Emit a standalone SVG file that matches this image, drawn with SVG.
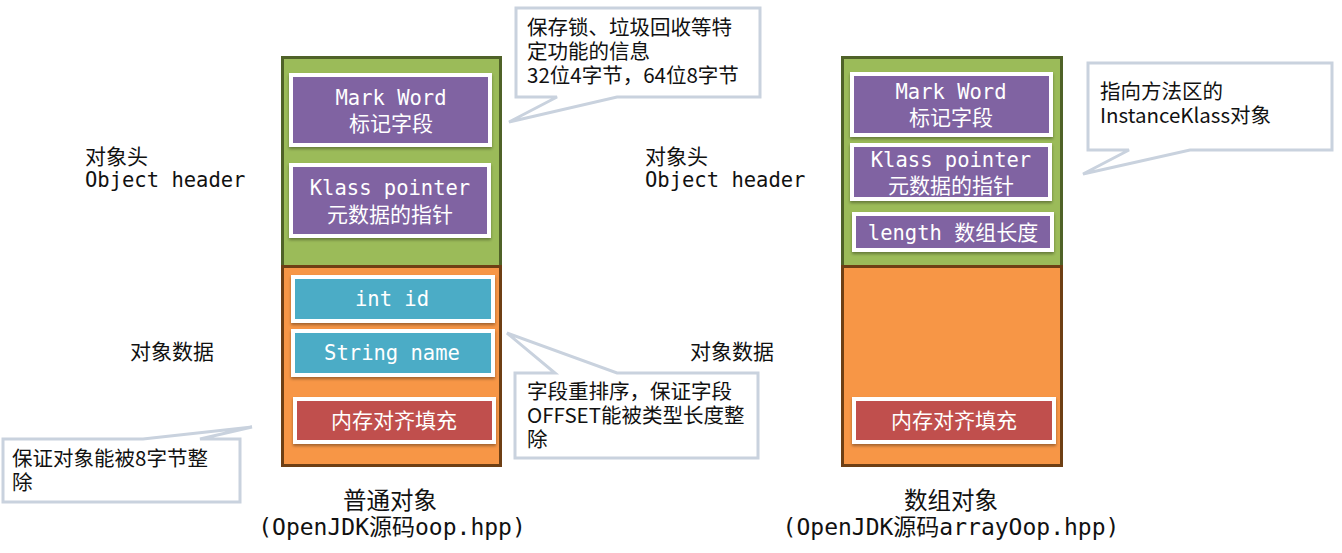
<svg xmlns="http://www.w3.org/2000/svg" width="1342" height="553" viewBox="0 0 1342 553">
<defs>
<filter id="sh" x="-10%" y="-10%" width="120%" height="130%">
<feDropShadow dx="0" dy="2" stdDeviation="1.5" flood-color="#000" flood-opacity="0.35"/>
</filter>
</defs>
<style>
.green{fill:#9bbb59;stroke:#4f6228;stroke-width:3}
.orange{fill:#f79646;stroke:#6e3f14;stroke-width:3}
.box{stroke:#fff;stroke-width:4;filter:url(#sh)}
.pur{fill:#8064a2}
.teal{fill:#4bacc6}
.red{fill:#c0504d}
.mono{font-family:"DejaVu Sans Mono","Liberation Mono",monospace;font-size:20.5px}
.cjk{font-family:"Noto Sans CJK SC","Noto Sans",sans-serif;font-size:21px}
.co{font-family:"Noto Sans CJK SC","Noto Sans",sans-serif;font-size:20.5px}
.wt{fill:#fff;text-anchor:middle}
.bk{fill:#111}
.callout{fill:#fff;stroke:#c9d2de;stroke-width:3}
.cap{font-family:"Noto Sans CJK SC",sans-serif;font-size:23.5px;fill:#111;text-anchor:middle}
.capm{font-family:"DejaVu Sans Mono","Noto Sans CJK SC",monospace;font-size:23px;fill:#111;text-anchor:middle}
</style>
<rect width="1342" height="553" fill="#fff"/>

<g id="obj-normal">
<rect class="green" x="282.5" y="57.5" width="218" height="209"/>
<rect class="orange" x="282.5" y="266.5" width="218" height="199"/>
<g id="n-mark"><rect class="box pur" x="291" y="75" width="199" height="70"/>
<text class="mono wt" x="391" y="105">Mark Word</text>
<text class="cjk wt" x="391" y="131">标记字段</text></g>
<g id="n-klass"><rect class="box pur" x="291" y="165" width="198" height="71"/>
<text class="mono wt" x="390" y="195">Klass pointer</text>
<text class="cjk wt" x="390" y="222">元数据的指针</text></g>
<g id="n-int"><rect class="box teal" x="293" y="277" width="200" height="44"/>
<text class="mono wt" x="392" y="306">int id</text></g>
<g id="n-str"><rect class="box teal" x="293" y="331" width="200" height="44"/>
<text class="mono wt" x="392" y="360">String name</text></g>
<g id="n-pad"><rect class="box red" x="295" y="399" width="199" height="43"/>
<text class="cjk wt" x="394" y="428">内存对齐填充</text></g>
</g>

<g id="obj-array">
<rect class="green" x="842.5" y="57.5" width="219" height="209"/>
<rect class="orange" x="842.5" y="266.5" width="219" height="199"/>
<g id="a-mark"><rect class="box pur" x="852" y="74" width="199" height="61"/>
<text class="mono wt" x="951" y="99">Mark Word</text>
<text class="cjk wt" x="951" y="125">标记字段</text></g>
<g id="a-klass"><rect class="box pur" x="852" y="145" width="198" height="54"/>
<text class="mono wt" x="951" y="167">Klass pointer</text>
<text class="cjk wt" x="951" y="193">元数据的指针</text></g>
<g id="a-len"><rect class="box pur" x="854" y="214" width="198" height="36"/>
<text class="wt" x="953" y="240"><tspan class="mono">length </tspan><tspan class="cjk">数组长度</tspan></text></g>
<g id="a-pad"><rect class="box red" x="854" y="399" width="200" height="43"/>
<text class="cjk wt" x="954" y="428">内存对齐填充</text></g>
</g>

<g id="labels">
<text class="cjk bk" x="85" y="164">对象头</text>
<text class="mono bk" x="85" y="187">Object header</text>
<text class="cjk bk" x="645" y="164">对象头</text>
<text class="mono bk" x="645" y="187">Object header</text>
<text class="cjk bk" x="130" y="359">对象数据</text>
<text class="cjk bk" x="690" y="359">对象数据</text>
<text class="cap" x="390" y="509">普通对象</text>
<text class="capm" x="392" y="535">(OpenJDK源码oop.hpp)</text>
<text class="cap" x="951" y="509">数组对象</text>
<text class="capm" x="951" y="535">(OpenJDK源码arrayOop.hpp)</text>
</g>

<g id="callout-mark">
<path class="callout" d="M516,8 H760 V97 H617 L509,122 L557,97 H516 Z"/>
<text class="co bk"><tspan x="527" y="35">保存锁、垃圾回收等特</tspan><tspan x="527" y="59">定功能的信息</tspan><tspan x="527" y="83">32位4字节，64位8字节</tspan></text>
</g>
<g id="callout-klass">
<path class="callout" d="M1088,63 H1332 V150 H1190 L1083,174 L1129,150 H1088 Z"/>
<text class="co bk"><tspan x="1100" y="99">指向方法区的</tspan><tspan x="1100" y="123">InstanceKlass对象</tspan></text>
</g>
<g id="callout-fields">
<path class="callout" d="M515,373 H555 L507,333 L617,373 H758 V458 H515 Z"/>
<text class="co bk"><tspan x="527" y="399">字段重排序，保证字段</tspan><tspan x="527" y="423">OFFSET能被类型长度整</tspan><tspan x="527" y="447">除</tspan></text>
</g>
<g id="callout-pad">
<path class="callout" d="M3,439 H143 L252,427 L200,439 H240 V502 H3 Z"/>
<text class="co bk"><tspan x="12" y="466">保证对象能被8字节整</tspan><tspan x="12" y="490">除</tspan></text>
</g>
<g id="connectors"/>
</svg>
